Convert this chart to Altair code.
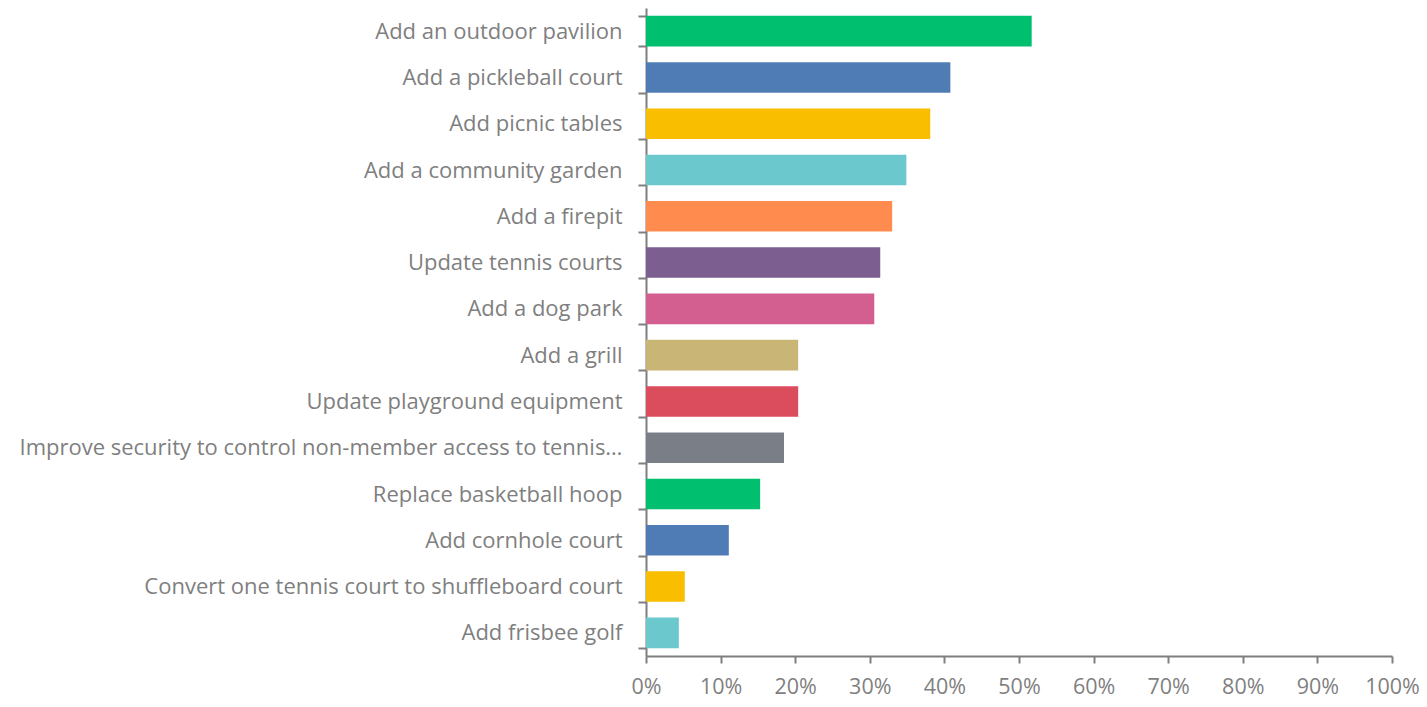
import altair as alt
import pandas as pd

categories = [
    "Add an outdoor pavilion",
    "Add a pickleball court",
    "Add picnic tables",
    "Add a community garden",
    "Add a firepit",
    "Update tennis courts",
    "Add a dog park",
    "Add a grill",
    "Update playground equipment",
    "Improve security to control non-member access to tennis…",
    "Replace basketball hoop",
    "Add cornhole court",
    "Convert one tennis court to shuffleboard court",
    "Add frisbee golf",
]
values = [0.517, 0.408, 0.381, 0.349, 0.330, 0.314, 0.306, 0.204, 0.204, 0.185, 0.153, 0.111, 0.052, 0.044]
colors = ["#00BF6F", "#507CB6", "#F9BE00", "#6BC8CD", "#FF8B4F", "#7D5E90", "#D25F90",
          "#C9B677", "#DB4D5C", "#7A7F87", "#00BF6F", "#507CB6", "#F9BE00", "#6BC8CD"]
ticks = [i / 10 for i in range(11)]

df = pd.DataFrame({"cat": categories, "val": values, "color": colors})

font = "Open Sans"
gray = "#7f7f7f"

chart = alt.Chart(df).mark_bar().encode(
    y=alt.Y("cat:N", sort=categories, title=None,
            scale=alt.Scale(paddingInner=0.34, paddingOuter=0.17),
            axis=alt.Axis(tickBand="extent", tickSize=8, tickColor=gray, tickWidth=2,
                          domainColor=gray, domainWidth=2, labelColor=gray, labelFont=font,
                          labelFontSize=22, labelPadding=16, labelLimit=700)),
    x=alt.X("val:Q", title=None,
            scale=alt.Scale(domain=[0, 1], nice=False, zero=True),
            axis=alt.Axis(values=ticks, format=".0%", grid=False, tickSize=7, tickColor=gray,
                          tickWidth=2, domainColor=gray, domainWidth=2, labelColor=gray,
                          labelFont=font, labelFontSize=21.5, labelPadding=13, labelFlush=False)),
    color=alt.Color("color:N", scale=None, legend=None),
).properties(
    width=746, height=648,
    autosize=alt.AutoSizeParams(type="none"),
    padding={"left": 638, "top": 0, "right": 27, "bottom": 43},
).configure_view(stroke=None)

chart.save("out.html", embed_options={"renderer": "svg", "actions": False})
